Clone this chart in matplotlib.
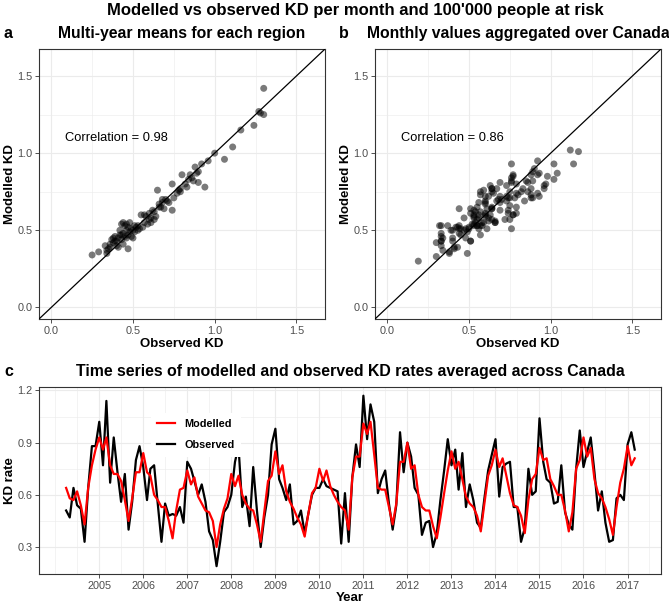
import numpy as np
import pandas as pd
import matplotlib
matplotlib.use("Agg")
import matplotlib.pyplot as plt

plt.rcParams['font.family'] = ['Liberation Sans', 'DejaVu Sans']

# panel a: multi-year means per region
region_obs = [0.25, 0.29, 0.33, 0.34, 0.34, 0.35, 0.36, 0.37, 0.38, 0.39, 0.40, 0.40, 0.41, 0.41,
              0.42, 0.42, 0.43, 0.43, 0.44, 0.44, 0.45, 0.45, 0.46, 0.46, 0.47, 0.47, 0.48, 0.48,
              0.49, 0.49, 0.50, 0.50, 0.51, 0.52, 0.53, 0.54, 0.55, 0.56, 0.57, 0.58, 0.59, 0.60,
              0.61, 0.62, 0.63, 0.64, 0.65, 0.66, 0.67, 0.68, 0.69, 0.70, 0.72, 0.74, 0.74, 0.75,
              0.77, 0.78, 0.79, 0.80, 0.82, 0.83, 0.85, 0.86, 0.87, 0.88, 0.89, 0.90, 0.90, 0.92,
              0.94, 0.96, 1.00, 1.06, 1.11, 1.16, 1.24, 1.27, 1.28, 1.30, 1.30,
              0.36, 0.38, 0.39, 0.43, 0.44, 0.46, 0.47, 0.51, 0.53, 0.57, 0.60, 0.61, 0.63, 0.66,
              0.68, 0.71, 0.79, 0.84]
region_mod = [0.34, 0.36, 0.40, 0.37, 0.35, 0.38, 0.41, 0.44, 0.42, 0.46, 0.40, 0.43, 0.39, 0.45,
              0.47, 0.50, 0.54, 0.44, 0.48, 0.41, 0.46, 0.53, 0.50, 0.45, 0.38, 0.47, 0.55, 0.49,
              0.51, 0.46, 0.45, 0.50, 0.49, 0.52, 0.53, 0.51, 0.60, 0.52, 0.55, 0.59, 0.54, 0.57,
              0.58, 0.63, 0.57, 0.59, 0.76, 0.67, 0.65, 0.68, 0.64, 0.70, 0.68, 0.80, 0.63, 0.71,
              0.74, 0.76, 0.75, 0.86, 0.80, 0.78, 0.86, 0.84, 0.82, 0.91, 0.87, 0.88, 0.81, 0.93,
              0.78, 0.95, 1.00, 0.96, 1.04, 1.15, 1.18, 1.27, 1.26, 1.25, 1.42,
              0.39, 0.45, 0.43, 0.47, 0.55, 0.54, 0.52, 0.53, 0.50, 0.60, 0.61, 0.55, 0.62, 0.65,
              0.70, 0.69, 0.77, 0.83]

# panel b/c: monthly Canada-wide values, Apr 2004 - Mar 2017
observed = [0.51, 0.47, 0.64, 0.54, 0.52, 0.33, 0.64, 0.88, 0.88,
            1.02, 0.77, 1.14, 0.67, 0.93, 0.73, 0.56, 0.72, 0.40, 0.56, 0.80, 0.88,
            0.76, 0.57, 0.75, 0.77, 0.55, 0.33, 0.55, 0.48, 0.49, 0.48, 0.53, 0.44,
            0.79, 0.75, 0.68, 0.60, 0.66, 0.56, 0.39, 0.34, 0.19, 0.33, 0.50, 0.53,
            0.60, 0.79, 0.88, 0.53, 0.59, 0.42, 0.76, 0.51, 0.30, 0.47, 0.60, 0.89,
            0.98, 0.69, 0.64, 0.57, 0.66, 0.43, 0.45, 0.51, 0.38, 0.49, 0.60, 0.64,
            0.64, 0.69, 0.65, 0.64, 0.63, 0.62, 0.32, 0.61, 0.33, 0.70, 0.89, 0.76,
            1.17, 0.92, 1.12, 1.02, 0.61, 0.69, 0.74, 0.55, 0.40, 0.54, 0.96, 0.73,
            0.90, 0.82, 0.64, 0.60, 0.37, 0.44, 0.45, 0.30, 0.38, 0.57, 0.74, 0.92,
            0.77, 0.86, 0.63, 0.84, 0.53, 0.66, 0.57, 0.44, 0.41, 0.58, 0.74, 0.83,
            0.92, 0.59, 0.76, 0.78, 0.79, 0.53, 0.53, 0.33, 0.41, 0.75, 0.60, 0.62,
            1.04, 0.79, 0.69, 0.67, 0.55, 0.56, 0.77, 0.50, 0.43, 0.40, 0.75, 0.97,
            0.76, 0.85, 0.93, 0.73, 0.51, 0.62, 0.44, 0.33, 0.34, 0.58, 0.60, 0.57,
            0.89, 0.96, 0.86]
modelled = [0.64, 0.58, 0.57, 0.62, 0.54, 0.43, 0.64, 0.77, 0.86,
            0.93, 0.86, 0.93, 0.77, 0.72, 0.72, 0.68, 0.57, 0.45, 0.58, 0.73, 0.73,
            0.84, 0.73, 0.71, 0.60, 0.57, 0.53, 0.53, 0.45, 0.35, 0.51, 0.63, 0.64,
            0.74, 0.66, 0.70, 0.59, 0.55, 0.51, 0.50, 0.45, 0.30, 0.43, 0.52, 0.58,
            0.72, 0.65, 0.71, 0.60, 0.55, 0.52, 0.51, 0.43, 0.33, 0.50, 0.68, 0.71,
            0.85, 0.72, 0.77, 0.62, 0.56, 0.52, 0.47, 0.43, 0.36, 0.49, 0.61, 0.64,
            0.75, 0.68, 0.74, 0.65, 0.60, 0.56, 0.53, 0.51, 0.40, 0.70, 0.82, 0.82,
            1.01, 0.95, 1.02, 0.83, 0.64, 0.63, 0.63, 0.53, 0.43, 0.55, 0.79, 0.79,
            0.90, 0.75, 0.77, 0.60, 0.53, 0.51, 0.51, 0.42, 0.35, 0.47, 0.61, 0.74,
            0.85, 0.75, 0.79, 0.69, 0.59, 0.55, 0.53, 0.48, 0.39, 0.55, 0.71, 0.77,
            0.86, 0.76, 0.81, 0.71, 0.61, 0.54, 0.53, 0.48, 0.38, 0.57, 0.69, 0.72,
            0.87, 0.80, 0.81, 0.69, 0.65, 0.60, 0.60, 0.51, 0.39, 0.50, 0.75, 0.80,
            0.93, 0.82, 0.87, 0.69, 0.61, 0.58, 0.53, 0.46, 0.37, 0.53, 0.67, 0.75,
            0.88, 0.77, 0.81]
months = pd.date_range("2004-04-01", periods=len(observed), freq="MS")

corr_a = "Correlation = 0.98"
corr_b = "Correlation = 0.86"

W, H = 669, 605
fig = plt.figure(figsize=(W / 100, H / 100), dpi=100)


def box(l, t, r, b):
    return [l / W, 1 - b / H, (r - l) / W, (b - t) / H]


def style(ax):
    ax.set_facecolor("white")
    for s in ax.spines.values():
        s.set_color("#333333")
        s.set_linewidth(0.8)
    ax.grid(which="major", color="#EBEBEB", lw=0.8, zorder=0)
    ax.grid(which="minor", color="#EBEBEB", lw=0.4, zorder=0)
    ax.set_axisbelow(True)
    ax.tick_params(which="major", length=2.8, width=0.6, color="#333333",
                   labelcolor="#4D4D4D", labelsize=7.8, pad=2)
    ax.tick_params(which="minor", length=0)


lim = (-0.075, 1.675)
ticks = [0.0, 0.5, 1.0, 1.5]
for pos, xs, ys, txt, title, letter, lx in [
        ((39, 49, 325, 319), region_obs, region_mod, corr_a,
         "Multi-year means for each region", "a", 4),
        ((375, 49, 661, 319), observed, modelled, corr_b,
         "Monthly values aggregated over Canada", "b", 339)]:
    ax = fig.add_axes(box(*pos))
    style(ax)
    ax.scatter(xs, ys, s=25, color="black", alpha=0.52, edgecolors="none", zorder=3)
    ax.axline((0, 0), slope=1, color="black", lw=0.9, zorder=4)
    ax.set_xlim(lim)
    ax.set_ylim(lim)
    ax.set_xticks(ticks)
    ax.set_yticks(ticks)
    ax.set_xticks([0.25, 0.75, 1.25], minor=True)
    ax.set_yticks([0.25, 0.75, 1.25], minor=True)
    ax.set_xlabel("Observed KD", fontsize=9.5, fontweight="bold", labelpad=2)
    ax.set_ylabel("Modelled KD", fontsize=9.5, fontweight="bold", labelpad=1)
    ax.text(0.4, 1.1, txt, fontsize=9.3, ha="center", va="center")
    ax.set_title(title, fontsize=11.3, fontweight="bold", pad=8)
    fig.text(lx / W, 1 - 33 / H, letter, fontsize=11.5, fontweight="bold",
             ha="left", va="center")

axc = fig.add_axes(box(39, 387, 661, 574))
style(axc)
axc.plot(months, modelled, color="#FF0000", lw=1.6, label="Modelled", zorder=3)
axc.plot(months, observed, color="black", lw=1.6, label="Observed", zorder=2)
axc.set_xlim(pd.Timestamp("2003-08-20"), pd.Timestamp("2017-10-05"))
axc.set_ylim(0.145, 1.22)
axc.set_yticks([0.3, 0.6, 0.9, 1.2])
axc.set_yticks([0.45, 0.75, 1.05], minor=True)
axc.set_xticks([pd.Timestamp(f"{y}-01-01") for y in range(2005, 2018)])
axc.set_xticklabels([str(y) for y in range(2005, 2018)])
axc.set_xticks([pd.Timestamp("2004-01-01")] +
               [pd.Timestamp(f"{y}-07-01") for y in range(2004, 2018)], minor=True)
axc.set_xlabel("Year", fontsize=9.5, fontweight="bold", labelpad=1)
axc.set_ylabel("KD rate", fontsize=9.5, fontweight="bold", labelpad=1)
axc.set_title("Time series of modelled and observed KD rates averaged across Canada",
              fontsize=11.4, fontweight="bold", pad=8)
leg = axc.legend(loc="center", bbox_to_anchor=(0.252, 0.745), frameon=True,
                 fancybox=False, edgecolor="none", facecolor="white", framealpha=1,
                 prop={"weight": "bold", "size": 7.8}, handlelength=1.7,
                 labelspacing=1.0, borderpad=0.6)
fig.text(4 / W, 1 - 372 / H, "c", fontsize=11.5, fontweight="bold", ha="left", va="center")

fig.text(355 / W, 1 - 10 / H, "Modelled vs observed KD per month and 100'000 people at risk",
         fontsize=12, fontweight="bold", ha="center", va="center")

fig.savefig("out.png", dpi=100, facecolor="white")
